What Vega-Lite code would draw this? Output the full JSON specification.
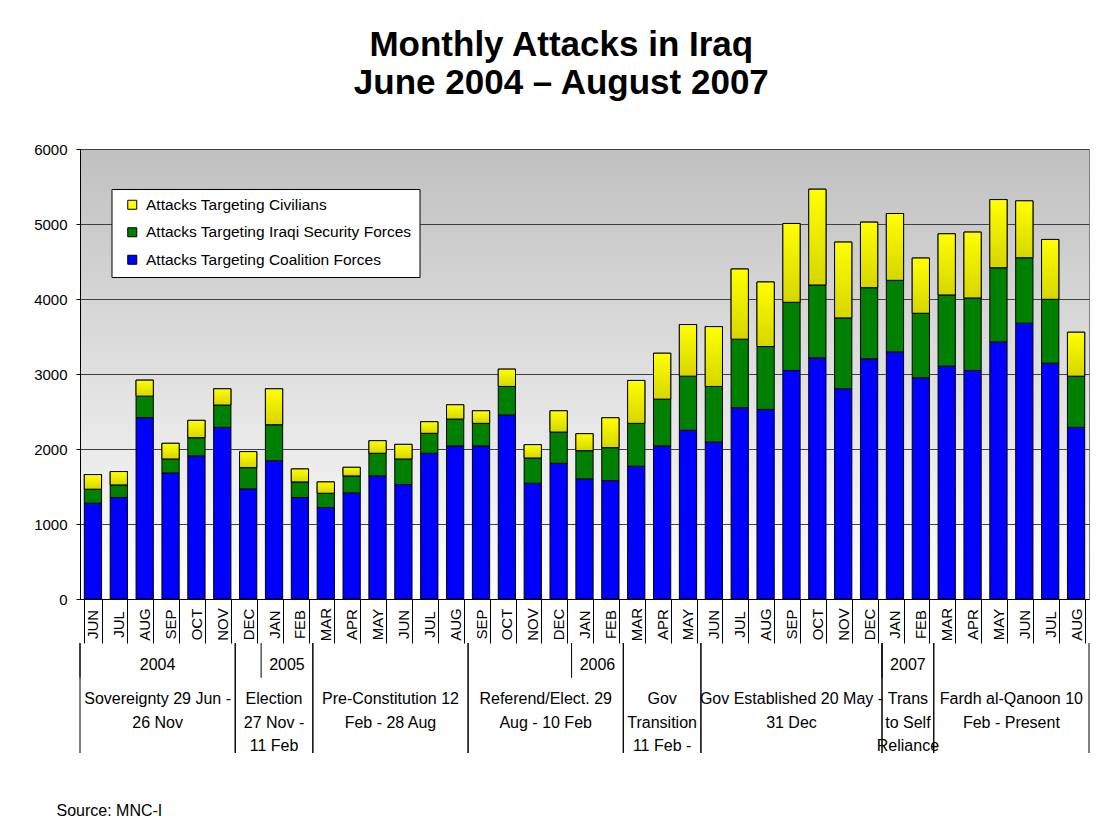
{
  "$schema": "https://vega.github.io/schema/vega-lite/v6.json",
  "background": "white",
  "padding": {"left": 33, "top": 27, "right": 8, "bottom": 8},
  "title": {
    "text": ["Monthly Attacks in Iraq", "June 2004 – August 2007"],
    "font": "Liberation Sans",
    "fontSize": 35,
    "fontWeight": "bold",
    "lineHeight": 38,
    "anchor": "middle",
    "offset": 41,
    "color": "black"
  },
  "datasets": {
    "attacks": [
      {"month": "JUN 2004", "coalition": 1277, "iraqi": 187, "civilians": 195},
      {"month": "JUL 2004", "coalition": 1353, "iraqi": 168, "civilians": 178},
      {"month": "AUG 2004", "coalition": 2417, "iraqi": 288, "civilians": 213},
      {"month": "SEP 2004", "coalition": 1681, "iraqi": 186, "civilians": 209},
      {"month": "OCT 2004", "coalition": 1907, "iraqi": 244, "civilians": 231},
      {"month": "NOV 2004", "coalition": 2288, "iraqi": 298, "civilians": 217},
      {"month": "DEC 2004", "coalition": 1468, "iraqi": 284, "civilians": 213},
      {"month": "JAN 2005", "coalition": 1845, "iraqi": 479, "civilians": 479},
      {"month": "FEB 2005", "coalition": 1353, "iraqi": 208, "civilians": 173},
      {"month": "MAR 2005", "coalition": 1220, "iraqi": 190, "civilians": 151},
      {"month": "APR 2005", "coalition": 1415, "iraqi": 226, "civilians": 115},
      {"month": "MAY 2005", "coalition": 1641, "iraqi": 302, "civilians": 168},
      {"month": "JUN 2005", "coalition": 1526, "iraqi": 341, "civilians": 195},
      {"month": "JUL 2005", "coalition": 1943, "iraqi": 266, "civilians": 155},
      {"month": "AUG 2005", "coalition": 2040, "iraqi": 359, "civilians": 191},
      {"month": "SEP 2005", "coalition": 2040, "iraqi": 302, "civilians": 168},
      {"month": "OCT 2005", "coalition": 2453, "iraqi": 381, "civilians": 231},
      {"month": "NOV 2005", "coalition": 1543, "iraqi": 337, "civilians": 178},
      {"month": "DEC 2005", "coalition": 1809, "iraqi": 417, "civilians": 284},
      {"month": "JAN 2006", "coalition": 1601, "iraqi": 377, "civilians": 226},
      {"month": "FEB 2006", "coalition": 1579, "iraqi": 439, "civilians": 399},
      {"month": "MAR 2006", "coalition": 1770, "iraqi": 572, "civilians": 572},
      {"month": "APR 2006", "coalition": 2040, "iraqi": 625, "civilians": 612},
      {"month": "MAY 2006", "coalition": 2249, "iraqi": 722, "civilians": 688},
      {"month": "JUN 2006", "coalition": 2093, "iraqi": 741, "civilians": 798},
      {"month": "JUL 2006", "coalition": 2550, "iraqi": 914, "civilians": 936},
      {"month": "AUG 2006", "coalition": 2528, "iraqi": 838, "civilians": 861},
      {"month": "SEP 2006", "coalition": 3047, "iraqi": 909, "civilians": 1051},
      {"month": "OCT 2006", "coalition": 3215, "iraqi": 972, "civilians": 1277},
      {"month": "NOV 2006", "coalition": 2803, "iraqi": 945, "civilians": 1011},
      {"month": "DEC 2006", "coalition": 3202, "iraqi": 949, "civilians": 874},
      {"month": "JAN 2007", "coalition": 3295, "iraqi": 954, "civilians": 891},
      {"month": "FEB 2007", "coalition": 2949, "iraqi": 861, "civilians": 736},
      {"month": "MAR 2007", "coalition": 3105, "iraqi": 949, "civilians": 816},
      {"month": "APR 2007", "coalition": 3047, "iraqi": 967, "civilians": 878},
      {"month": "MAY 2007", "coalition": 3428, "iraqi": 989, "civilians": 909},
      {"month": "JUN 2007", "coalition": 3677, "iraqi": 873, "civilians": 759},
      {"month": "JUL 2007", "coalition": 3144, "iraqi": 852, "civilians": 798},
      {"month": "AUG 2007", "coalition": 2288, "iraqi": 683, "civilians": 586}
    ],
    "periods": [
      {"label": "Sovereignty 29 Jun -\n26 Nov", "start": 0, "end": 6},
      {"label": "Election\n27 Nov -\n11 Feb", "start": 6, "end": 9},
      {"label": "Pre-Constitution 12\nFeb - 28 Aug", "start": 9, "end": 15},
      {"label": "Referend/Elect. 29\nAug - 10 Feb", "start": 15, "end": 21},
      {"label": "Gov\nTransition\n11 Feb -", "start": 21, "end": 24},
      {"label": "Gov Established 20 May -\n31 Dec", "start": 24, "end": 31},
      {"label": "Trans\nto Self\nReliance", "start": 31, "end": 33},
      {"label": "Fardh al-Qanoon 10\nFeb - Present", "start": 33, "end": 39}
    ],
    "years": [
      {"year": "2004", "start": 0, "end": 6},
      {"year": "2005", "start": 7, "end": 9},
      {"year": "2006", "start": 19, "end": 21},
      {"year": "2007", "start": 31, "end": 33}
    ]
  },
  "spacing": 44,
  "bounds": "flush",
  "vconcat": [
    {
      "width": 1009,
      "height": 450,
      "view": {
        "fill": {
          "gradient": "linear",
          "x1": 0, "y1": 0, "x2": 0, "y2": 1,
          "stops": [
            {"offset": 0, "color": "#c0c0c0"},
            {"offset": 1, "color": "#ffffff"}
          ]
        },
        "stroke": "#808080",
        "strokeWidth": 1
      },
      "data": {"name": "attacks"},
      "transform": [
        {"fold": ["coalition", "iraqi", "civilians"], "as": ["series", "value"]},
        {"calculate": "indexof(['coalition','iraqi','civilians'], datum.series)", "as": "ord"},
        {"stack": "value", "groupby": ["month"], "sort": [{"field": "ord", "order": "ascending"}], "as": ["v0", "v1"]}
      ],
      "encoding": {
        "x": {
          "field": "month",
          "type": "ordinal",
          "sort": null,
          "scale": {"paddingInner": 0.3333, "paddingOuter": 0.16667},
          "axis": {
            "title": null,
            "labelExpr": "slice(datum.label, 0, 3)",
            "labelAngle": 270,
            "labelAlign": "center",
            "labelBaseline": "middle",
            "labelPadding": -19,
            "labelFont": "Liberation Sans",
            "labelFontSize": 15,
            "labelColor": "black",
            "labelOverlap": false,
            "tickBand": "extent",
            "tickSize": 44,
            "tickColor": "black",
            "domainColor": "black",
            "grid": false
          }
        }
      },
      "layer": [
        {
          "mark": {"type": "bar", "stroke": "black", "strokeWidth": 1},
          "encoding": {
            "y": {
              "field": "v0",
              "type": "quantitative",
              "scale": {"domain": [0, 6000], "nice": false},
              "axis": {
                "title": null,
                "values": [0, 1000, 2000, 3000, 4000, 5000, 6000],
                "format": "d",
                "labelFont": "Liberation Sans",
                "labelFontSize": 15,
                "labelColor": "black",
                "labelPadding": 9,
                "tickSize": 4,
                "tickColor": "black",
                "domainColor": "black",
                "grid": true,
                "gridColor": "#404040",
                "gridOpacity": 1
              }
            },
            "y2": {"field": "v1"},
            "color": {
              "field": "series",
              "type": "nominal",
              "scale": {
                "domain": ["civilians", "iraqi", "coalition"],
                "range": ["#ffff00", "#008000", "#0000ff"]
              },
              "legend": {
                "title": null,
                "orient": "none",
                "legendX": 31.5,
                "legendY": 40,
                "direction": "vertical",
                "fillColor": "white",
                "strokeColor": "black",
                "padding": 8,
                "labelExpr": "datum.value == 'civilians' ? 'Attacks Targeting Civilians' : datum.value == 'iraqi' ? 'Attacks Targeting Iraqi Security Forces' : 'Attacks Targeting Coalition Forces'",
                "labelFont": "Liberation Sans",
                "labelFontSize": 15.5,
                "labelColor": "black",
                "labelLimit": 400,
                "labelOffset": 6,
                "symbolType": "square",
                "symbolSize": 81,
                "symbolStrokeColor": "black",
                "symbolStrokeWidth": 1,
                "symbolOffset": 5,
                "rowPadding": 10.5
              }
            }
          }
        },
        {
          "transform": [{"filter": "datum.series === 'civilians'"}],
          "mark": {
            "type": "bar",
            "stroke": "black",
            "strokeWidth": 1,
            "fill": {
              "gradient": "linear",
              "x1": 0, "y1": 0, "x2": 0, "y2": 1,
              "stops": [
                {"offset": 0, "color": "#ffff00"},
                {"offset": 1, "color": "#d6d600"}
              ]
            }
          },
          "encoding": {
            "y": {"field": "v0", "type": "quantitative"},
            "y2": {"field": "v1"}
          }
        }
      ]
    },
    {
      "width": 1009,
      "height": 110,
      "view": {"stroke": null, "fill": null},
      "title": {
        "text": "Source:  MNC-I",
        "orient": "bottom",
        "anchor": "start",
        "frame": "group",
        "dx": -23.5,
        "offset": 49,
        "font": "Liberation Sans",
        "fontSize": 16,
        "fontWeight": "normal",
        "color": "black"
      },
      "layer": [
        {
          "data": {"name": "periods"},
          "mark": {"type": "rule", "color": "black", "strokeWidth": 1},
          "encoding": {
            "x": {"field": "start", "type": "quantitative", "scale": {"domain": [0, 39], "nice": false, "zero": false}, "axis": null},
            "y": {"datum": 0, "type": "quantitative", "scale": {"domain": [0, 3], "reverse": true, "nice": false}, "axis": null},
            "y2": {"datum": 3}
          }
        },
        {
          "data": {"name": "periods"},
          "mark": {"type": "rule", "color": "black", "strokeWidth": 1},
          "encoding": {
            "x": {"field": "end", "type": "quantitative"},
            "y": {"datum": 0, "type": "quantitative"},
            "y2": {"datum": 3}
          }
        },
        {
          "data": {"name": "years"},
          "mark": {"type": "rule", "color": "black", "strokeWidth": 1},
          "encoding": {
            "x": {"field": "start", "type": "quantitative"},
            "y": {"datum": 0, "type": "quantitative"},
            "y2": {"datum": 0.95}
          }
        },
        {
          "data": {"name": "years"},
          "transform": [{"calculate": "(datum.start + datum.end) / 2", "as": "mid"}],
          "mark": {"type": "text", "font": "Liberation Sans", "fontSize": 16, "baseline": "middle", "align": "center", "color": "black"},
          "encoding": {
            "x": {"field": "mid", "type": "quantitative"},
            "y": {"datum": 0.61, "type": "quantitative"},
            "text": {"field": "year"}
          }
        },
        {
          "data": {"name": "periods"},
          "transform": [{"calculate": "(datum.start + datum.end) / 2", "as": "mid"}],
          "mark": {"type": "text", "font": "Liberation Sans", "fontSize": 16, "baseline": "top", "align": "center", "lineBreak": "\n", "lineHeight": 23.5, "color": "black"},
          "encoding": {
            "x": {"field": "mid", "type": "quantitative"},
            "y": {"datum": 1.31, "type": "quantitative"},
            "text": {"field": "label"}
          }
        }
      ]
    }
  ],
  "config": {
    "font": "Liberation Sans",
    "view": {"stroke": null}
  }
}
